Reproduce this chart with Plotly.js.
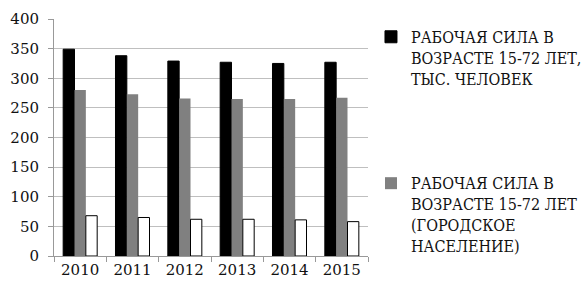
<!DOCTYPE html>
<html>
<head>
<meta charset="utf-8">
<script src="https://cdn.plot.ly/plotly-3.0.1.min.js"></script>
<style>html,body{margin:0;padding:0;background:#fff;}#chart{width:587px;height:284px;}</style>
</head>
<body>
<div id="chart"></div>
<script>
const years = ['2010', '2011', '2012', '2013', '2014', '2015'];
const laborForce = [349, 338, 329, 327, 325, 327];
const laborForceUrban = [280, 273, 266, 265, 265, 267];
const laborForceRural = [68, 65, 62, 62, 61, 58];
const seriesNames = [
  'РАБОЧАЯ СИЛА В<br>ВОЗРАСТЕ 15-72 ЛЕТ,<br>ТЫС. ЧЕЛОВЕК',
  'РАБОЧАЯ СИЛА В<br>ВОЗРАСТЕ 15-72 ЛЕТ<br>(ГОРОДСКОЕ<br>НАСЕЛЕНИЕ)',
  ''
];
const yTicks = [0, 50, 100, 150, 200, 250, 300, 350, 400];

const font = 'DejaVu Serif';
const legendFont = 'DejaVu Serif Condensed';
const data = [
  {type: 'bar', x: years, y: laborForce, name: seriesNames[0], legendgroup: 'a',
   marker: {color: '#000000', line: {color: '#000000', width: 1}}},
  {type: 'bar', x: years, y: laborForceUrban, name: seriesNames[1], legendgroup: 'b',
   marker: {color: '#808080', line: {color: '#808080', width: 0}}},
  {type: 'bar', x: years, y: laborForceRural, name: seriesNames[2], legendgroup: 'c', showlegend: false,
   marker: {color: '#ffffff', line: {color: '#000000', width: 1}}}
];
const layout = {
  width: 587, height: 284,
  margin: {l: 54, r: 219, t: 19, b: 28},
  paper_bgcolor: '#fff', plot_bgcolor: '#fff',
  font: {family: font, size: 15, color: '#111'},
  barmode: 'group', bargap: 0.35, bargroupgap: 0,
  showlegend: true,
  legend: {xref: 'container', yref: 'container', x: 0.632, xanchor: 'left', y: 0.93, yanchor: 'top', valign: 'top',
           maxheight: 280,
           font: {family: legendFont, size: 16, color: '#111'},
           traceorder: 'grouped', tracegroupgap: 81, itemwidth: 30},
  xaxis: {type: 'category', tickson: 'boundaries', ticks: 'outside', ticklen: 5,
          tickcolor: '#999', showline: true, linecolor: '#999', linewidth: 1,
          showgrid: false, tickfont: {family: font, size: 15, color: '#111'}},
  yaxis: {range: [0, 400], tickvals: yTicks, ticks: 'outside', ticklen: 5, tickcolor: '#999',
          ticklabelstandoff: 6,
          showline: true, linecolor: '#999', gridcolor: '#bfbfbf', zeroline: false,
          tickfont: {family: font, size: 15, color: '#111'}}
};
Plotly.newPlot('chart', data, layout, {displayModeBar: false, staticPlot: true});
</script>
</body>
</html>
